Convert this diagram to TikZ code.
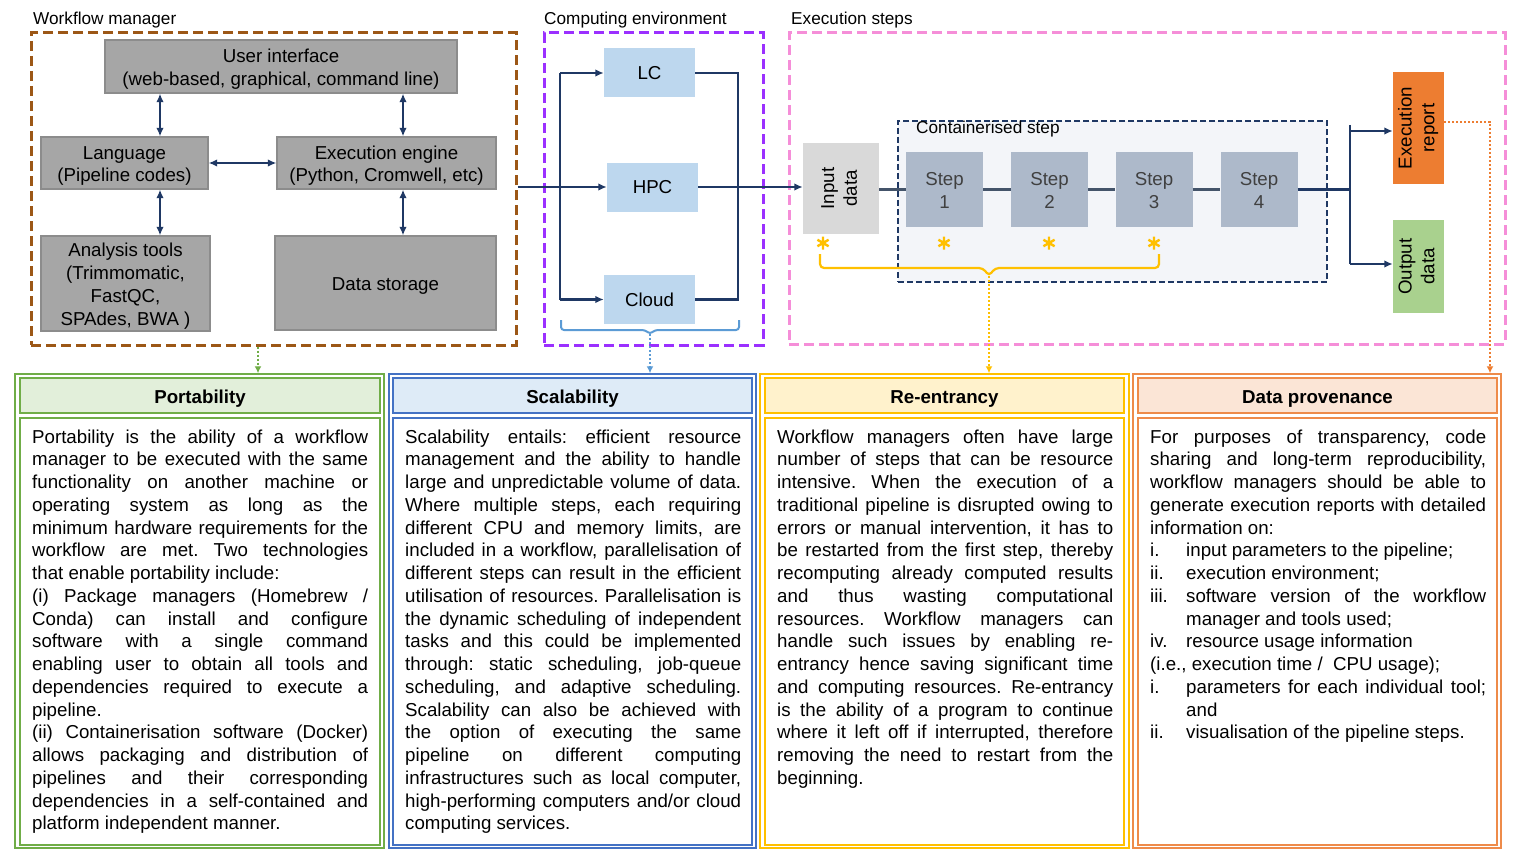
\documentclass[tikz,border=0pt]{standalone}
\usepackage{fontspec}
\usepackage{graphicx}
\setmainfont{Liberation Sans}
\usetikzlibrary{arrows.meta}
\definecolor{wmbrown}{HTML}{9C5716}
\definecolor{cepurple}{HTML}{9B30FF}
\definecolor{espink}{HTML}{F58ED8}
\definecolor{gfill}{HTML}{A6A6A6}
\definecolor{gline}{HTML}{8C8C8C}
\definecolor{navy}{HTML}{1F3864}
\definecolor{lblue}{HTML}{BDD7EE}
\definecolor{ingray}{HTML}{D9D9D9}
\definecolor{stepfill}{HTML}{ADB9CA}
\definecolor{contfill}{HTML}{F3F5F9}
\definecolor{slate}{HTML}{44546A}
\definecolor{repor}{HTML}{ED7D31}
\definecolor{outgr}{HTML}{A9D18E}
\definecolor{ylw}{HTML}{FFC000}
\definecolor{grn}{HTML}{70AD47}
\definecolor{grnfill}{HTML}{E2EFDA}
\definecolor{blu}{HTML}{4472C4}
\definecolor{blufill}{HTML}{DEEBF7}
\definecolor{bluebrace}{HTML}{5B9BD5}
\definecolor{ylwfill}{HTML}{FFF2CC}
\definecolor{orn}{HTML}{EE8B4A}
\definecolor{ornfill}{HTML}{FBE5D6}
\definecolor{steptext}{HTML}{404040}
\newcommand{\fbody}{\fontsize{18.7}{22.76}\selectfont}
\newcommand{\flabel}{\fontsize{17.2}{20}\selectfont}
\newcommand{\mycell}[1]{\begin{tabular}{@{}c@{}}#1\end{tabular}}
\newcommand{\boxtext}[1]{\raisebox{-3pt}[\height][\depth]{\mycell{#1}}}
\newcommand{\rottext}[1]{\rotatebox{90}{\mycell{#1}}}
\newcommand{\dpitem}[1]{\par\noindent\hangindent=36pt\hangafter=1\makebox[36pt][l]{#1}}
\hyphenpenalty=10000
\exhyphenpenalty=10000
\tolerance=10000
\hbadness=10000
\frenchspacing
\begin{document}
\begin{tikzpicture}[x=1pt,y=-1pt,
  every node/.style={inner sep=0pt},
  frame/.style={draw, dash pattern=on 10pt off 5pt, line width=3pt},
  lbl/.style={anchor=base west, font=\flabel},
  gbox/.style={draw=gline, fill=gfill, line width=1.2pt, font=\fbody},
  cbox/.style={fill=lblue, font=\fbody, minimum width=91pt, minimum height=49pt},
  stepbox/.style={fill=stepfill, font=\fbody, text=steptext, minimum width=77pt, minimum height=75pt},
  rotbox/.style={font=\fbody},
  arr/.style={draw=navy, line width=2.5pt, -{Latex[length=8.5pt,width=7.5pt]}},
  darr/.style={draw=navy, line width=2.5pt, {Latex[length=8.5pt,width=7.5pt]}-{Latex[length=8.5pt,width=7.5pt]}},
  nline/.style={draw=navy, line width=2.5pt},
  sline/.style={draw=slate, line width=2.5pt},
  dotarr/.style={line width=2pt, dash pattern=on 2pt off 2pt, -{Latex[length=7pt,width=7pt]}},
  brace/.style={line width=2.2pt, rounded corners=4pt},
  outerbox/.style={draw, line width=1.5pt, minimum height=474pt},
  hdr/.style={draw, line width=1.8pt, minimum height=35pt, text height=15pt, text depth=0pt, font=\fbody\bfseries},
  bodybox/.style={draw, line width=1.8pt, minimum height=427pt},
  btext/.style={anchor=base west, text width=336pt, align=justify, font=\fbody},
  ast/.pic={\draw[ylw, line width=2.4pt] (0,-6.5) -- (0,6.5) (-5.6,-3.25) -- (5.6,3.25) (-5.6,3.25) -- (5.6,-3.25);}
]
\useasboundingbox (0,0) rectangle (1520,856);

% ---------- Workflow manager ----------
\node[lbl] (wml) at (33,25) {Workflow manager};
\node[frame, draw=wmbrown, minimum width=485pt, minimum height=312pt] (wm) at (273.5,189) {};
\node[gbox, minimum width=352pt, minimum height=53pt] (ui) at (281,66.5) {\boxtext{User interface\\(web-based, graphical, command line)}};
\node[gbox, minimum width=167pt, minimum height=52pt] (lang) at (124.5,163) {\boxtext{Language\\(Pipeline codes)}};
\node[gbox, minimum width=219pt, minimum height=52pt] (eng) at (386.5,163) {\boxtext{Execution engine\\(Python, Cromwell, etc)}};
\node[gbox, minimum width=169pt, minimum height=95pt] (tools) at (125.5,283.5) {\boxtext{Analysis tools\\(Trimmomatic,\\FastQC,\\SPAdes, BWA )}};
\node[gbox, minimum width=221pt, minimum height=94pt] (store) at (385.5,283) {\boxtext{Data storage}};
\coordinate (xa) at (160,0);
\coordinate (xb) at (403,0);
\draw[darr] (ui.south -| xa) -- (lang.north -| xa);
\draw[darr] (ui.south -| xb) -- (eng.north -| xb);
\draw[darr] (lang.east) -- (eng.west);
\draw[darr] (lang.south -| xa) -- (tools.north -| xa);
\draw[darr] (eng.south -| xb) -- (store.north -| xb);

% ---------- Computing environment ----------
\node[lbl] (cel) at (544,25) {Computing environment};
\node[frame, draw=cepurple, minimum width=219pt, minimum height=312pt] (ce) at (653.5,189) {};
\node[cbox] (lc) at (649.5,73) {LC};
\node[cbox] (hpc) at (652.5,187) {HPC};
\node[cbox] (cloud) at (649.5,299.5) {Cloud};
\coordinate (bxl) at (560,0);
\coordinate (bxr) at (738,0);
\draw[arr] (wm.east |- hpc.west) -- (hpc.west);
\draw[nline] (bxl |- lc.west) -- (bxl |- cloud.west);
\draw[arr] (bxl |- lc.west) -- (lc.west);
\draw[arr] (bxl |- cloud.west) -- (cloud.west);
\draw[nline] (lc.east) -- (bxr |- lc.east) -- (bxr |- cloud.east) -- (cloud.east);
\draw[bluebrace, line width=2pt, rounded corners=3pt] (561,320) -- (561,330) -- (645,330) -- (650,334) -- (655,330) -- (739,330) -- (739,320);
\coordinate (bb) at (650,334);

% ---------- Execution steps ----------
\node[lbl] (esl) at (791,25) {Execution steps};
\node[frame, draw=espink, minimum width=716pt, minimum height=311pt] (es) at (1147,188.5) {};
\node[draw=navy, line width=2pt, dash pattern=on 6pt off 3pt, fill=contfill, minimum width=429pt, minimum height=161pt] (cont) at (1112.5,201.5) {};
\node[lbl] (contl) at (916,134) {Containerised step};
\node[rotbox, fill=ingray, minimum width=76pt, minimum height=91pt] (inp) at (841,188.5) {\rottext{Input\\data}};
\draw[arr] (hpc.east) -- (hpc.east -| inp.west);
\node[stepbox] (s1) at (944.5,189.5) {\boxtext{Step\\1}};
\node[stepbox] (s2) at (1049.5,189.5) {\boxtext{Step\\2}};
\node[stepbox] (s3) at (1154,189.5) {\boxtext{Step\\3}};
\node[stepbox] (s4) at (1259,189.5) {\boxtext{Step\\4}};
\node[rotbox, fill=repor, minimum width=51pt, minimum height=112pt] (rep) at (1418.5,128) {\rottext{Execution\\report}};
\node[rotbox, fill=outgr, minimum width=51pt, minimum height=93pt] (out) at (1418.5,266.5) {\rottext{Output\\data}};
\draw[sline] (inp.east |- s1.west) -- (s1.west);
\draw[sline] (s1.east) -- (s2.west);
\draw[sline] (s2.east) -- (s3.west);
\draw[sline] (s3.east) -- (s4.west);
\coordinate (jx) at (1350,0);
\draw[nline] (s4.east) -- (jx |- s4.east);
\draw[nline] ([yshift=3pt]jx |- rep.west) -- ([yshift=2.5pt]jx |- out.west);
\draw[arr] ([yshift=-3pt]jx |- rep.west) -- ([yshift=-3pt]rep.west);
\draw[arr] ([yshift=2.5pt]jx |- out.west) -- ([yshift=2.5pt]out.west);
\pic at (823,243) {ast};
\pic at (944,243) {ast};
\pic at (1049,243) {ast};
\pic at (1154,243) {ast};
\draw[ylw, brace] (820,254) -- (820,268) -- (983,268) -- (989,276) -- (995,268) -- (1159,268) -- (1159,254);
\coordinate (yb) at (989,276);

% ---------- Bottom boxes ----------
% Portability
\node[outerbox, draw=grn, minimum width=369pt] (pbox) at (199.5,611) {};
\node[hdr, draw=grn, fill=grnfill, minimum width=360pt] (phdr) at (200,395.5) {Portability};
\node[bodybox, draw=grn, minimum width=360pt] (pbody) at (200,631.5) {};
\node[btext] (ptext) at (32,443) {Portability is the ability of a workflow\linebreak
manager to be executed with the same\linebreak
functionality on another machine or\linebreak
operating system as long as the\linebreak
minimum hardware requirements for the\linebreak
workflow are met. Two technologies\linebreak
that enable portability include:\par
(i) Package managers (Homebrew /\linebreak
Conda) can install and configure\linebreak
software with a single command\linebreak
enabling user to obtain all tools and\linebreak
dependencies required to execute a\linebreak
pipeline.\par
(ii) Containerisation software (Docker)\linebreak
allows packaging and distribution of\linebreak
pipelines and their corresponding\linebreak
dependencies in a self-contained and\linebreak
platform independent manner.};

% Scalability
\node[outerbox, draw=blu, minimum width=367pt] (sbox) at (572.5,611) {};
\node[hdr, draw=blu, fill=blufill, minimum width=359pt] (shdr) at (572.5,395.5) {Scalability};
\node[bodybox, draw=blu, minimum width=359pt] (sbody) at (572.5,631.5) {};
\node[btext] (stext) at (405,443) {Scalability entails: efficient resource\linebreak
management and the ability to handle\linebreak
large and unpredictable volume of data.\linebreak
Where multiple steps, each requiring\linebreak
different CPU and memory limits, are\linebreak
included in a workflow, parallelisation of\linebreak
different steps can result in the efficient\linebreak
utilisation of resources. Parallelisation is\linebreak
the dynamic scheduling of independent\linebreak
tasks and this could be implemented\linebreak
through: static scheduling, job-queue\linebreak
scheduling, and adaptive scheduling.\linebreak
Scalability can also be achieved with\linebreak
the option of executing the same\linebreak
pipeline on different computing\linebreak
infrastructures such as local computer,\linebreak
high-performing computers and/or cloud\linebreak
computing services.};

% Re-entrancy
\node[outerbox, draw=ylw, minimum width=369pt] (rbox) at (944.5,611) {};
\node[hdr, draw=ylw, fill=ylwfill, minimum width=359pt] (rhdr) at (944.5,395.5) {Re-entrancy};
\node[bodybox, draw=ylw, minimum width=359pt] (rbody) at (944.5,631.5) {};
\node[btext] (rtext) at (777,443) {Workflow managers often have large\linebreak
number of steps that can be resource\linebreak
intensive. When the execution of a\linebreak
traditional pipeline is disrupted owing to\linebreak
errors or manual intervention, it has to\linebreak
be restarted from the first step, thereby\linebreak
recomputing already computed results\linebreak
and thus wasting computational\linebreak
resources. Workflow managers can\linebreak
handle such issues by enabling re-\linebreak
entrancy hence saving significant time\linebreak
and computing resources. Re-entrancy\linebreak
is the ability of a program to continue\linebreak
where it left off if interrupted, therefore\linebreak
removing the need to restart from the\linebreak
beginning.};

% Data provenance
\node[outerbox, draw=orn, minimum width=368pt] (dbox) at (1317,611) {};
\node[hdr, draw=orn, fill=ornfill, minimum width=359pt] (dhdr) at (1317.5,395.5) {Data provenance};
\node[bodybox, draw=orn, minimum width=359pt] (dbody) at (1317.5,631.5) {};
\node[btext] (dtext) at (1150,443) {For purposes of transparency, code\linebreak
sharing and long-term reproducibility,\linebreak
workflow managers should be able to\linebreak
generate execution reports with detailed\linebreak
information on:
\dpitem{i.}input parameters to the pipeline;
\dpitem{ii.}execution environment;
\dpitem{iii.}software version of the workflow\linebreak manager and tools used;
\dpitem{iv.}resource usage information\par
(i.e., execution time /\ \ CPU usage);
\dpitem{i.}parameters for each individual tool;\linebreak and
\dpitem{ii.}visualisation of the pipeline steps.};

% ---------- Dotted links ----------
\coordinate (gx) at (258,0);
\coordinate (ox) at (1490,0);
\draw[dotarr, grn] (gx |- wm.south) -- (gx |- pbox.north);
\draw[dotarr, bluebrace] (bb) -- (bb |- sbox.north);
\draw[dotarr, ylw] (yb) -- (yb |- rbox.north);
\draw[dotarr, repor] ([yshift=6pt]rep.east) -| (ox |- dbox.north);
\end{tikzpicture}
\end{document}
